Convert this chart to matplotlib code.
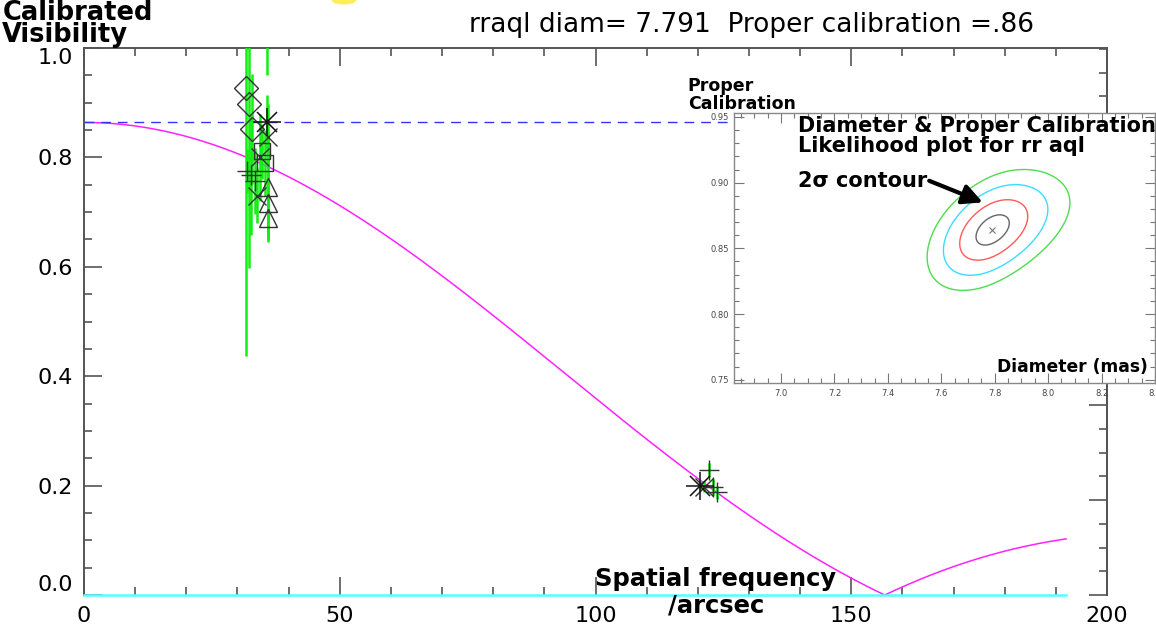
import numpy as np
import matplotlib
matplotlib.use('Agg')
import matplotlib.pyplot as plt
from matplotlib.ticker import MultipleLocator, FormatStrFormatter, NullFormatter
from matplotlib.patches import Ellipse

# fit results for rr aql
diam_mas = 7.791
proper_cal = 0.864

# calibrated visibilities, grouped by plotting symbol
diamond_freq = [31.6, 32.2, 32.9]
diamond_vis = [0.927, 0.898, 0.852]
diamond_err = [0.49, 0.30, 0.10]

plus_freq = [31.8, 32.6, 33.4, 122.2, 123.0, 123.8]
plus_vis = [0.775, 0.768, 0.757, 0.229, 0.197, 0.188]
plus_err = [0.04, 0.11, 0.06, 0.013, 0.015, 0.012]

square_freq = [34.8, 35.3]
square_vis = [0.811, 0.790]
square_err = [0.05, 0.06]

star_freq = [35.8, 120.5]
star_vis = [0.864, 0.200]
star_err = [0.05, 0.01]

cross_freq = [33.9, 34.5, 35.9, 35.8, 121.3]
cross_vis = [0.73, 0.80, 0.838, 1.12, 0.198]
cross_err = [0.05, 0.08, 0.06, 0.17, 0.01]

tri_freq = [35.9, 35.9, 35.9]
tri_vis = [0.746, 0.717, 0.689]
tri_err = [0.10, 0.06, 0.04]

# likelihood surface (diameter vs calibration)
like_sig_d = 0.061
like_sig_c = 0.0115
like_rho = 0.45
like_skew = 0.04
like_levels = [1, 4, 9, 16]
like_colors = ['#666666', '#ff5a5a', '#3cdcff', '#4ddd4d']

FONT = 'DejaVu Sans'
EDGE = '#555555'


def bessel_j1(x):
    tau = np.linspace(0, np.pi, 801)
    vals = np.cos(tau[None, :] - x[:, None] * np.sin(tau[None, :]))
    return np.trapezoid(vals, tau, axis=1) / np.pi


def uniform_disk(freq, diam, cal):
    x = np.pi * (diam / 1000.0) * freq
    x = np.where(x == 0, 1e-9, x)
    return cal * np.abs(2 * bessel_j1(x) / x)


plt.rcParams['font.family'] = FONT

fig = plt.figure(figsize=(11.56, 6.37), dpi=100)
ax = fig.add_axes([0.0727, 0.0659, 0.8849, 0.8587])
ax.set_xlim(0, 200)
ax.set_ylim(0, 1.0)

model_f = np.linspace(0, 192, 500)
ax.plot(model_f, uniform_disk(model_f, diam_mas, proper_cal), color='#ff22ff', lw=1.1, zorder=2)
ax.axhline(proper_cal, color='#3333ff', lw=1.0, ls=(0, (7, 5)), zorder=2)
ax.plot([0, 192], [0, 0], color='#55ffff', lw=1.8, clip_on=False, zorder=3)

groups = [
    (diamond_freq, diamond_vis, diamond_err, 'D', 12),
    (plus_freq, plus_vis, plus_err, '+', 15),
    (square_freq, square_vis, square_err, 's', 12),
    (cross_freq, cross_vis, cross_err, 'x', 13),
    (tri_freq, tri_vis, tri_err, '^', 13),
]
for f, v, e, m, ms in groups:
    ax.errorbar(f, v, yerr=e, fmt='none', ecolor='#11ee11', elinewidth=1.8, capsize=0, zorder=4)
    ax.plot(f, v, ls='none', marker=m, ms=ms, mfc='none', mec='#333333', mew=1.0, zorder=5)

# asterisk symbol: plus and cross drawn on top of each other
ax.errorbar(star_freq, star_vis, yerr=star_err, fmt='none', ecolor='#11ee11', elinewidth=1.8, capsize=0, zorder=4)
ax.plot(star_freq, star_vis, ls='none', marker='+', ms=20, mec='#111111', mew=1.1, zorder=6)
ax.plot(star_freq, star_vis, ls='none', marker='x', ms=15, mec='#111111', mew=1.1, zorder=6)

ax.xaxis.set_major_locator(MultipleLocator(50))
ax.xaxis.set_minor_locator(MultipleLocator(10))
ax.yaxis.set_major_locator(MultipleLocator(0.2))
ax.yaxis.set_minor_locator(MultipleLocator(0.05))
ax.yaxis.set_major_formatter(FormatStrFormatter('%.1f'))
ax.tick_params(which='both', direction='in', top=True, right=False, color=EDGE, width=1.2)
ax.tick_params(which='major', length=13, labelsize=16, pad=8)
ax.tick_params(which='minor', length=6)
for side in ['left', 'top', 'right']:
    ax.spines[side].set_color(EDGE)
    ax.spines[side].set_linewidth(1.4)
ax.spines['bottom'].set_visible(False)

# end labels sit inside the axis range
for loc, tick in zip(ax.yaxis.get_majorticklocs(), ax.yaxis.get_major_ticks()):
    if np.isclose(loc, 0.0):
        tick.label1.set_va('bottom')
    elif np.isclose(loc, 1.0):
        tick.label1.set_va('top')

twin = ax.twinx()
twin.set_ylim(0, 1.152)
twin.yaxis.set_major_locator(MultipleLocator(0.2))
twin.yaxis.set_minor_locator(MultipleLocator(0.05))
twin.yaxis.set_major_formatter(NullFormatter())
twin.tick_params(which='both', direction='in', color=EDGE, width=1.2)
twin.tick_params(which='major', length=13)
twin.tick_params(which='minor', length=6)
for side in ['left', 'top', 'bottom']:
    twin.spines[side].set_visible(False)
twin.spines['right'].set_color(EDGE)
twin.spines['right'].set_linewidth(1.4)

fig.text(0.002, 1.0, 'Calibrated\nVisibility', ha='left', va='top', fontsize=18.5,
         fontweight='bold', linespacing=0.8)
fig.text(0.65, 0.961, 'rraql diam= 7.791  Proper calibration =.86', ha='center', va='center',
         fontsize=19)
fig.text(0.6194, 0.0911, 'Spatial frequency', ha='center', va='center', fontsize=17.5,
         fontweight='bold')
fig.text(0.6194, 0.0487, '/arcsec', ha='center', va='center', fontsize=17.5,
         fontweight='bold')
fig.add_artist(Ellipse((0.2976, 1.0), 0.02, 0.012, transform=fig.transFigure,
                       color='#ffee55', clip_on=False))

# likelihood inset
ins = fig.add_axes([0.635, 0.3987, 0.3641, 0.4239])
ins.set_facecolor('white')
ins.set_xlim(6.824, 8.40)
ins.set_ylim(0.7475, 0.953)

dd = np.linspace(6.8, 8.45, 500)
cc = np.linspace(0.74, 0.96, 500)
D, C = np.meshgrid(dd, cc)
u = (D - diam_mas) / like_sig_d
u = np.where(u > 0, u / (1 + like_skew * u), u)
v = (C - proper_cal) / like_sig_c
chi2 = (u ** 2 - 2 * like_rho * u * v + v ** 2) / (1 - like_rho ** 2)
ins.contour(D, C, chi2, levels=like_levels, colors=like_colors, linewidths=1.0)
ins.plot([diam_mas], [proper_cal], marker='x', ms=5, color='#777777', mew=0.8)

ins.xaxis.set_major_locator(MultipleLocator(0.2))
ins.xaxis.set_minor_locator(MultipleLocator(0.05))
ins.yaxis.set_major_locator(MultipleLocator(0.05))
ins.yaxis.set_minor_locator(MultipleLocator(0.01))
ins.xaxis.set_major_formatter(FormatStrFormatter('%.1f'))
ins.yaxis.set_major_formatter(FormatStrFormatter('%.2f'))
ins.tick_params(which='both', direction='in', top=True, right=True, color='#777777',
                width=0.8, labelsize=6, labelcolor='#444444')
ins.tick_params(which='major', length=7, pad=4)
ins.tick_params(which='minor', length=3.5)
for sp in ins.spines.values():
    sp.set_color('#888888')
    sp.set_linewidth(1.0)

ins.text(7.064, 0.9508, 'Diameter & Proper Calibration\nLikelihood plot for rr aql', ha='left',
         va='top', fontsize=15, fontweight='bold', linespacing=1.0)
ins.text(7.064, 0.9015, '2σ contour', ha='left', va='center', fontsize=15,
         fontweight='bold')
ins.annotate('', xy=(7.765, 0.8842), xytext=(7.545, 0.9022),
             arrowprops=dict(arrowstyle='-|>', color='black', lw=3, mutation_scale=30))
ins.text(8.372, 0.7595, 'Diameter (mas)', ha='right', va='center', fontsize=12.3,
         fontweight='bold')
fig.text(0.595, 0.879, 'Proper\nCalibration', ha='left', va='top', fontsize=12.5,
         fontweight='bold', linespacing=1.0)

fig.savefig('out.png', dpi=100)
